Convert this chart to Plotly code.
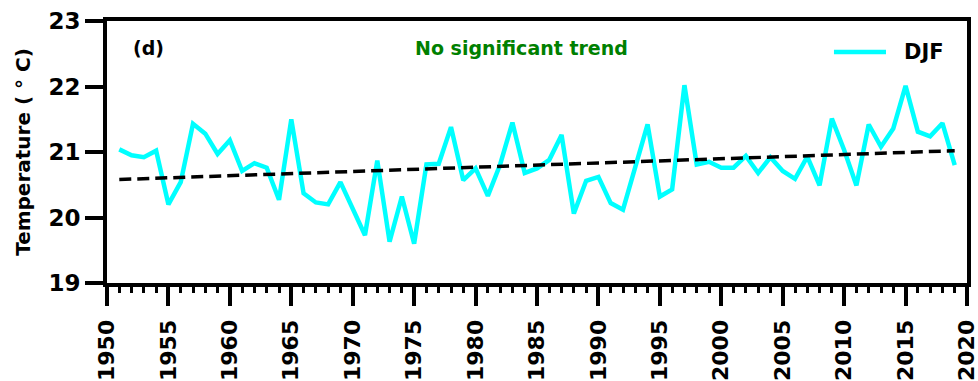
import plotly.graph_objects as go

# DJF mean temperature series
years = list(range(1951, 2020))
temps = [
    21.04, 20.95, 20.92, 21.02, 20.20, 20.54, 21.43, 21.28, 20.97, 21.18,
    20.71, 20.83, 20.76, 20.27, 21.50, 20.37, 20.23, 20.20, 20.54, 20.12,
    19.73, 20.87, 19.63, 20.32, 19.60, 20.81, 20.82, 21.38, 20.57, 20.75,
    20.33, 20.81, 21.45, 20.68, 20.75, 20.88, 21.26, 20.06, 20.56, 20.62,
    20.22, 20.12, 20.77, 21.42, 20.32, 20.43, 22.02, 20.81, 20.85, 20.76,
    20.76, 20.94, 20.68, 20.92, 20.71, 20.59, 20.93, 20.49, 21.51, 21.03,
    20.49, 21.42, 21.08, 21.36, 22.01, 21.31, 21.24, 21.44, 20.80,
]

# linear trend end points
trend_years = [1951, 2019]
trend_vals = [20.58, 21.02]

x_ticks = list(range(1950, 2021, 5))
y_ticks = [19, 20, 21, 22, 23]

FONT = "DejaVu Sans"
CYAN = "#00FFFF"

fig = go.Figure()
fig.add_trace(go.Scatter(
    x=years, y=temps, mode="lines", name="DJF", showlegend=False,
    line=dict(color=CYAN, width=4.5),
))
fig.add_trace(go.Scatter(
    x=trend_years, y=trend_vals, mode="lines", showlegend=False,
    line=dict(color="black", width=3.5, dash="12px,6px"),
))

fig.update_layout(
    width=978, height=381,
    margin=dict(l=107, r=11, t=21, b=98),
    paper_bgcolor="white", plot_bgcolor="white",
    font=dict(family=FONT, color="black"),
    xaxis=dict(
        range=[1950, 2020], tickvals=x_ticks, ticktext=[str(v) for v in x_ticks],
        tickangle=-90, ticks="outside", ticklen=19, tickwidth=4, tickcolor="black",
        ticklabelstandoff=5, ticklabeloverflow="allow",
        minor=dict(dtick=1, tick0=1950, ticks="outside", ticklen=6, tickwidth=3, tickcolor="black"),
        tickfont=dict(size=22, family=FONT, weight="bold"),
        showline=True, linewidth=4, linecolor="black", mirror=True,
        showgrid=False, zeroline=False, automargin=False,
    ),
    yaxis=dict(
        range=[19, 23], tickvals=y_ticks,
        ticks="outside", ticklen=18, tickwidth=4, tickcolor="black",
        tickfont=dict(size=23, family=FONT, weight="bold"),
        showline=True, linewidth=4, linecolor="black", mirror=True,
        showgrid=False, zeroline=False, automargin=False,
        title=dict(text="Temperature ( ° C)", standoff=13,
                   font=dict(size=20, family=FONT, weight="bold")),
    ),
    shapes=[
        # legend sample line
        dict(type="line", xref="paper", yref="paper",
             x0=0.8453, x1=0.9058, y0=0.8817, y1=0.8817,
             line=dict(color=CYAN, width=4.5)),
    ],
    annotations=[
        dict(text="DJF", xref="paper", yref="paper", x=0.9245, y=0.8817,
             xanchor="left", yanchor="middle", showarrow=False,
             font=dict(size=21, family=FONT, weight="bold", color="black")),
        dict(text="(d)", xref="paper", yref="paper", x=0.028, y=0.897,
             xanchor="left", yanchor="middle", showarrow=False,
             font=dict(size=19, family=FONT, weight="bold", color="black")),
        dict(text="No significant trend", xref="paper", yref="paper", x=0.4814, y=0.897,
             xanchor="center", yanchor="middle", showarrow=False,
             font=dict(size=19, family=FONT, weight="bold", color="green")),
    ],
)

fig.write_html("out.html")
